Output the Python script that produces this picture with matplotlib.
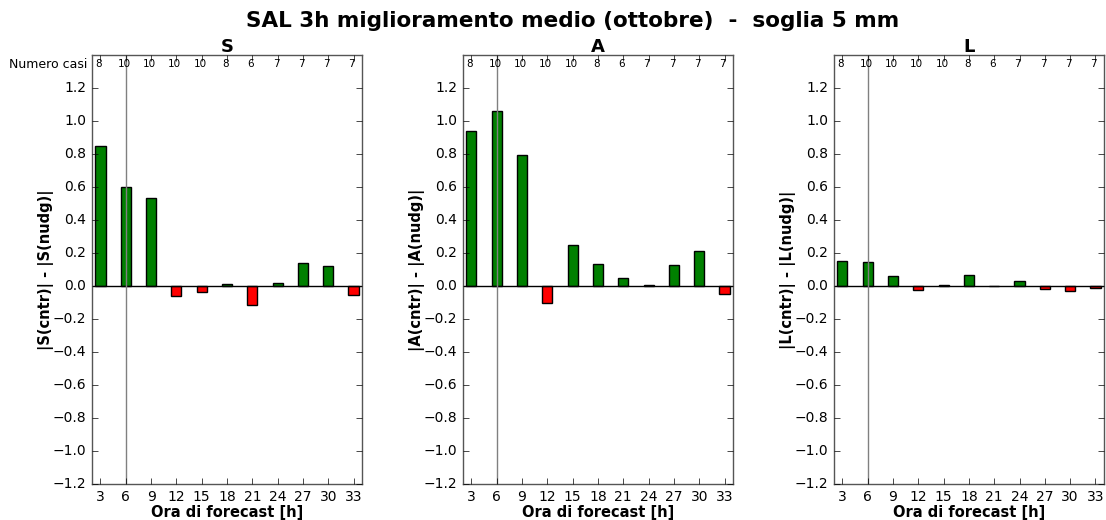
import matplotlib
matplotlib.use("Agg")
import matplotlib.pyplot as plt
import numpy as np

plt.style.use("classic")

hours = [3, 6, 9, 12, 15, 18, 21, 24, 27, 30, 33]
n_cases = [8, 10, 10, 10, 10, 8, 6, 7, 7, 7, 7]

s_diff = [0.848, 0.598, 0.533, -0.060, -0.036, 0.010, -0.117, 0.016, 0.142, 0.119, -0.056]
a_diff = [0.937, 1.058, 0.797, -0.100, 0.250, 0.132, 0.048, 0.005, 0.127, 0.212, -0.050]
l_diff = [0.151, 0.145, 0.058, -0.022, 0.008, 0.066, 0.002, 0.030, -0.016, -0.032, -0.012]

panels = [("S", s_diff), ("A", a_diff), ("L", l_diff)]
lefts = [0.0832, 0.4186, 0.754]

fig = plt.figure(figsize=(11.06, 5.2), dpi=100, facecolor="white")
fig.suptitle("SAL 3h miglioramento medio (ottobre)  -  soglia 5 mm",
             fontsize=15.5, fontweight="bold", x=0.518, y=0.978)

for i, (name, vals) in enumerate(panels):
    ax = fig.add_axes([lefts[i], 0.0692, 0.2441, 0.8250])
    vals = np.array(vals)
    colors = np.where(vals >= 0, "green", "red")
    ax.bar(hours, vals, width=1.2, align="center", color=colors,
           edgecolor="black", linewidth=1)
    ax.axhline(0, color="black", linewidth=1)
    ax.axvline(6, color="gray", linewidth=1)
    ax.set_xlim(2, 34)
    ax.set_ylim(-1.2, 1.4)
    ax.set_xticks(hours)
    ax.set_yticks(np.arange(-1.2, 1.21, 0.2))
    ax.tick_params(labelsize=10)
    ax.tick_params(axis="x", pad=4)
    ax.set_title(name, fontsize=13, fontweight="bold", pad=2)
    ax.set_xlabel("Ora di forecast [h]", fontsize=10.5, fontweight="bold", labelpad=1)
    ax.set_ylabel("|%s(cntr)| - |%s(nudg)|" % (name, name), fontsize=10.5,
                  fontweight="bold")
    ax.yaxis.set_label_coords(-0.142, 0.5)
    for h, n in zip(hours, n_cases):
        ax.text(h - 0.2, 1.345, str(n), ha="center", va="center", fontsize=7.5)
    if i == 0:
        ax.text(-0.018, 1.345, "Numero casi", transform=ax.get_yaxis_transform(),
                ha="right", va="center", fontsize=9)
    for sp in ax.spines.values():
        sp.set_color("#555555")

fig.savefig("out.png", dpi=100, facecolor="white")
